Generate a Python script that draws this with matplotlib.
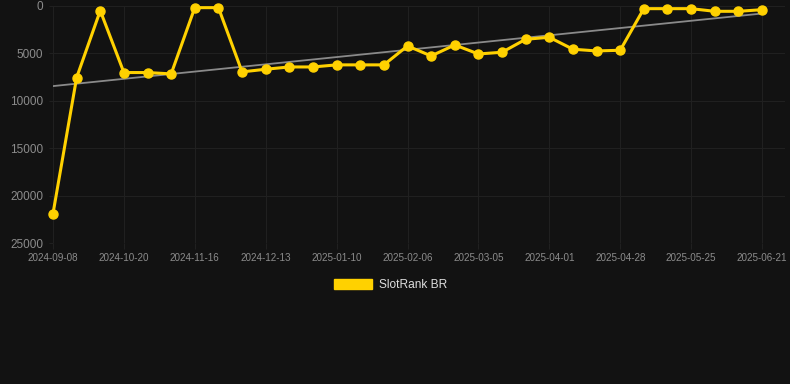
import numpy as np
import matplotlib
matplotlib.use("Agg")
import matplotlib.pyplot as plt

plt.rcParams['font.family'] = ['Liberation Sans', 'DejaVu Sans']

dates = ["2024-09-08", "2024-09-22", "2024-10-06", "2024-10-20", "2024-10-29", "2024-11-07",
         "2024-11-16", "2024-11-25", "2024-12-04", "2024-12-13", "2024-12-22", "2024-12-31",
         "2025-01-10", "2025-01-19", "2025-01-28", "2025-02-06", "2025-02-15", "2025-02-24",
         "2025-03-05", "2025-03-14", "2025-03-23", "2025-04-01", "2025-04-10", "2025-04-19",
         "2025-04-28", "2025-05-07", "2025-05-16", "2025-05-25", "2025-06-03", "2025-06-12",
         "2025-06-21"]
rank = [21900, 7550, 490, 7020, 7020, 7160, 175, 175, 6950, 6670, 6430, 6430, 6210, 6210, 6210,
        4210, 5270, 4110, 5060, 4880, 3510, 3300, 4560, 4740, 4670, 280, 280, 280, 560, 560, 390]
yticks = [0, 5000, 10000, 15000, 20000, 25000]
series_name = "SlotRank BR"

bg = "#121212"
gold = "#FFD100"
gridc = "#202020"
fig = plt.figure(figsize=(7.9, 3.84), dpi=100, facecolor=bg)
W, H = 790, 384
x0, x1, ytop, ybot = 53, 785, 6, 243
ax = fig.add_axes([x0 / W, (H - ybot) / H, (x1 - x0) / W, (ybot - ytop) / H])
ax.set_facecolor(bg)

x = np.arange(len(rank))
step = (762 - 53) / 30
ax.set_xlim(0, (x1 - x0) / step)
ax.set_ylim(25000, 0)

coef = np.polyfit(x, rank, 1)
ax.plot(x, np.polyval(coef, x), color="#8a8a8a", lw=1.3, zorder=2)
ax.plot(x, rank, color=gold, lw=2.2, marker="o", ms=6.5, mfc=gold, mec=gold,
        zorder=3, clip_on=False, label=series_name)

ax.set_yticks(yticks)
ax.set_yticklabels([str(v) for v in yticks])
ax.set_xticks(x[::3])
ax.set_xticklabels([dates[i] for i in x[::3]])
ax.grid(True, color=gridc, lw=0.8)
for s in ax.spines.values():
    s.set_visible(False)
ax.tick_params(axis="y", colors=gridc, length=3, pad=4, labelsize=8.5, labelcolor="#8c8c8c")
ax.tick_params(axis="x", colors=gridc, length=4, pad=3, labelsize=7.1, labelcolor="#8c8c8c")

leg = fig.legend(handles=[plt.Rectangle((0, 0), 1, 1, fc=gold, ec=gold)], labels=[series_name],
                 loc="center", bbox_to_anchor=(390.5 / W, (H - 285) / H), frameon=False,
                 handlelength=3.2, handleheight=0.9, handletextpad=0.6, fontsize=8.6)
for t in leg.get_texts():
    t.set_color("#dddddd")

fig.savefig("out.png", dpi=100, facecolor=bg)
